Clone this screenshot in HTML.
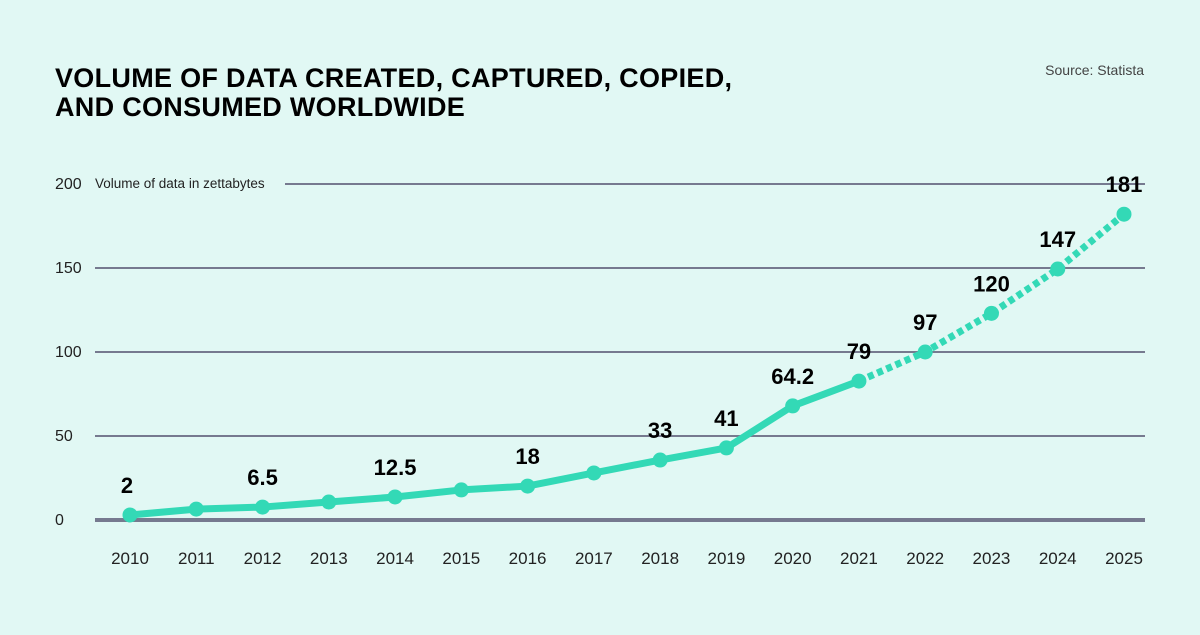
<!DOCTYPE html>
<html><head><meta charset="utf-8"><style>
body{margin:0;width:1200px;height:630px;background:#e1f8f4;font-family:"Liberation Sans",sans-serif;overflow:hidden}
</style></head><body>
<svg width="1200" height="630">
<text x="55" y="87" font-size="27" font-weight="900" fill="#000" style="letter-spacing:0.3px">VOLUME OF DATA CREATED, CAPTURED, COPIED,</text>
<text x="55" y="116" font-size="27" font-weight="900" fill="#000" style="letter-spacing:0.3px">AND CONSUMED WORLDWIDE</text>
<text x="1144" y="75" font-size="14" fill="#444" text-anchor="end">Source: Statista</text>
<g id="grid"></g><g id="plot"></g>
</svg>
<script>
const years=["2010","2011","2012","2013","2014","2015","2016","2017","2018","2019","2020","2021","2022","2023","2024","2025"];
const values=[3,6.5,7.7,10.7,13.7,17.9,20.2,28,35.7,42.9,67.9,82.7,100,123,149.4,182];
const labels=["2","","6.5","","12.5","","18","","33","41","64.2","79","97","120","147","181"];
const ticks=[0,50,100,150,200];
const dashStart=11;
const NS="http://www.w3.org/2000/svg";
const x=i=>130+i*(1124-130)/(years.length-1);
const y=v=>520-v*1.68;
const g=document.getElementById('grid'),p=document.getElementById('plot');
function mk(t,a,par){const e=document.createElementNS(NS,t);for(const k in a)e.setAttribute(k,a[k]);par.appendChild(e);return e;}
ticks.forEach(t=>{
 const l=mk('line',{x1:t==200?285:95,x2:1145,y1:y(t),y2:y(t),stroke:'#767a8f','stroke-width':t==0?4:2},g);
 
 
 const tx=mk('text',{x:55,y:y(t)+5,'font-size':16,fill:'#222'},g);tx.textContent=t;
 
 
});
const yt=mk('text',{x:95,y:y(200)+4,'font-size':13.5,fill:'#222'},g);yt.textContent='Volume of data in zettabytes';


years.forEach((yr,i)=>{const t=mk('text',{x:x(i),y:564,'font-size':17,fill:'#222','text-anchor':'middle'},g);t.textContent=yr;
 
 });
let s='',d='';
values.forEach((v,i)=>{if(i<=dashStart)s+=(i?'L':'M')+x(i)+','+y(v);if(i>=dashStart)d+=(i>dashStart?'L':'M')+x(i)+','+y(v);});
const sl=mk('path',{d:s,fill:'none',stroke:'#33d9b6','stroke-width':7,'stroke-linejoin':'round'},p);


const dl=mk('path',{d:d,fill:'none',stroke:'#33d9b6','stroke-width':7,'stroke-dasharray':'6 4'},p);


values.forEach((v,i)=>{
 const c=mk('circle',{cx:x(i),cy:y(v),r:7.5,fill:'#33d9b6'},p);
 
 
 if(labels[i]){const t=mk('text',{x:x(i)-(i==0?3:0),y:y(v)-22,'font-size':22,'font-weight':'bold',fill:'#000','text-anchor':'middle'},p);t.textContent=labels[i];
 
 }
});
</script>
</body></html>
